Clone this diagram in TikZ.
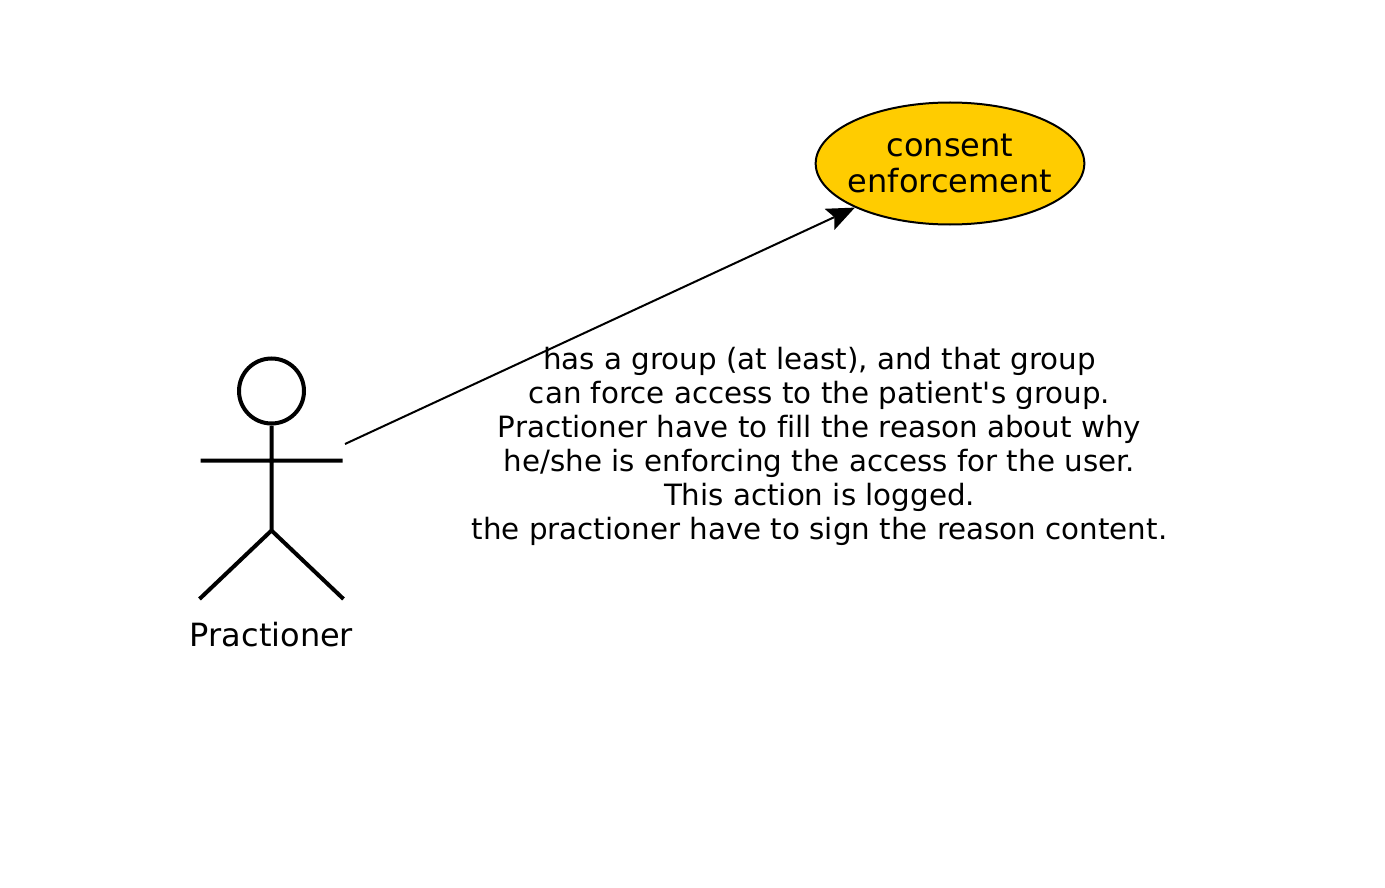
\documentclass[tikz,border=0pt]{standalone}
\usepackage{fontspec}
\setmainfont{DejaVu Sans}[Ligatures={TeXOff,NoCommon}]
\usetikzlibrary{arrows.meta}
\usetikzlibrary{shapes.geometric}
\definecolor{usecasefill}{RGB}{255,204,0}
\tikzset{
    usecase/.style={ellipse,draw,line width=1.5pt,fill=usecasefill,minimum width=201.5pt,minimum height=91.5pt,inner xsep=-10pt,inner ysep=0pt,align=center,font=\fontsize{24}{27.5}\selectfont},
    limb/.style={line width=3pt},
    note/.style={align=center,font=\fontsize{22}{25.5}\selectfont},
    arr/.style={line width=1.5pt,-{Stealth[length=21pt,width=17.5pt,inset=4pt,line width=0pt]}}
}
\begin{document}
\begin{tikzpicture}[x=0.75pt,y=-0.75pt]
    \useasboundingbox (0,0) rectangle (1385,888);
    \node[usecase] (consent) at (950,163.5) {consent\\enforcement};
    \node[note] (reason) at (819.5,446.5) {has a group (at least), and that group\\can force access to the patient's group.\\Practioner have to fill the reason about why\\he/she is enforcing the access for the user.\\This action is logged.\\the practioner have to sign the reason content.};
    %
    \node[circle,draw,limb,minimum size=48.75pt,inner sep=0pt] (head) at (271.5,391) {};
    \coordinate (hip) at (271.5,530.5);
    \coordinate (armL) at (200.5,460.5);
    \coordinate (armR) at (342.5,460.5);
    \coordinate (footL) at (199.5,599);
    \coordinate (footR) at (343.5,599);
    \draw[limb] (head) -- (hip) (armL) -- (armR) (footL) -- (hip) -- (footR);
    \node[font=\fontsize{24}{27.5}\selectfont] (actor) at (271.5,634.5) {Practioner};
    %
    \coordinate (start) at (345,444);
    \draw[arr] (start) -- (consent);
\end{tikzpicture}
\end{document}
